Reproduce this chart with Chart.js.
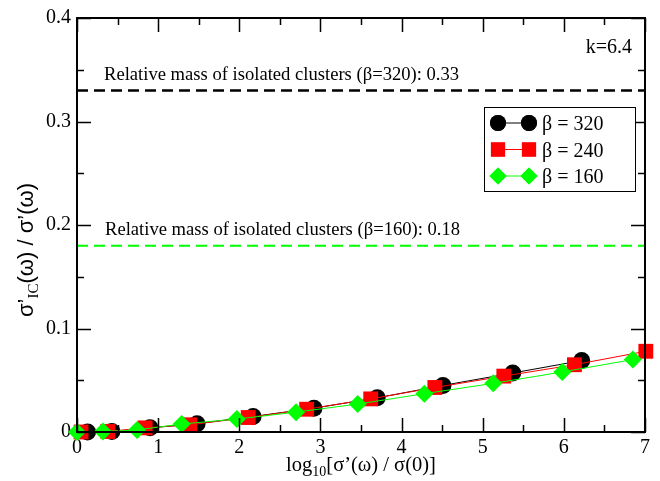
<!DOCTYPE html>
<html>
<head>
<meta charset="utf-8">
<script src="https://cdn.jsdelivr.net/npm/chart.js@4"></script>
<style>
  html, body { margin: 0; padding: 0; background: #fff; }
  #wrap { width: 660px; height: 481px; }
</style>
</head>
<body>
<div id="wrap"><canvas id="c"></canvas></div>
<script>
// values
const x320 = [0.13, 0.43, 0.90, 1.48, 2.17, 2.92, 3.70, 4.51, 5.37, 6.22];
const y320 = [0.000, 0.0005, 0.004, 0.008, 0.015, 0.023, 0.033, 0.045, 0.057, 0.069];
const x240 = [0.05, 0.38, 0.84, 1.39, 2.11, 2.83, 3.62, 4.41, 5.26, 6.13, 7.01];
const y240 = [0.000, 0.0005, 0.004, 0.007, 0.014, 0.022, 0.032, 0.043, 0.054, 0.065, 0.078];
const x160 = [0.00, 0.32, 0.74, 1.29, 1.97, 2.70, 3.46, 4.28, 5.13, 5.98, 6.85];
const y160 = [0.000, 0.0005, 0.002, 0.0077, 0.0125, 0.0192, 0.027, 0.037, 0.047, 0.058, 0.070];

const massLevels = [0.33, 0.18];
const massLabels = ['Relative mass of isolated clusters (\u03b2=320): 0.33',
                    'Relative mass of isolated clusters (\u03b2=160): 0.18'];
const seriesNames = ['\u03b2 = 320', '\u03b2 = 240', '\u03b2 = 160'];
const xTicks = [0, 1, 2, 3, 4, 5, 6, 7];
const yTicks = [0, 0.1, 0.2, 0.3, 0.4];

const SERIF = '"Liberation Serif", "DejaVu Serif", serif';
const SANS = '"Liberation Sans", Arial, sans-serif';

function pts(xs, ys) {
  return xs.map((x, i) => ({x: x, y: ys[i]}));
}

const datasets = [
  {
    label: seriesNames[2], data: pts(x160, y160), showLine: true,
    borderColor: '#00ff00', backgroundColor: '#00ff00', borderWidth: 1,
    pointStyle: 'rectRot', pointRadius: 9, pointBorderWidth: 0, order: 1, clip: 12
  },
  {
    label: seriesNames[1], data: pts(x240, y240), showLine: true,
    borderColor: '#ff0000', backgroundColor: '#ff0000', borderWidth: 1,
    pointStyle: 'rect', pointRadius: 10.5, pointBorderWidth: 0, order: 2, clip: 12
  },
  {
    label: seriesNames[0], data: pts(x320, y320), showLine: true,
    borderColor: '#000000', backgroundColor: '#000000', borderWidth: 1,
    pointStyle: 'circle', pointRadius: 8.5, pointBorderWidth: 0, order: 3, clip: 12
  },
  {
    label: 'm320', data: [{x: 0, y: massLevels[0]}, {x: 7, y: massLevels[0]}], showLine: true,
    borderColor: '#000000', borderWidth: 2.5, borderDash: [11, 6], pointRadius: 0, order: 4
  },
  {
    label: 'm160', data: [{x: 0, y: massLevels[1]}, {x: 7, y: massLevels[1]}], showLine: true,
    borderColor: '#00ff00', borderWidth: 2, borderDash: [11, 6], pointRadius: 0, order: 4
  }
];

// frame, inward ticks on all sides, labels, legend, axis titles
const decor = {
  id: 'decor',
  afterDatasetsDraw(chart) {
    const ctx = chart.ctx;
    const a = chart.chartArea;
    const xs = chart.scales.x, ys = chart.scales.y;
    ctx.save();
    ctx.strokeStyle = '#000';
    ctx.lineWidth = 2;
    ctx.strokeRect(a.left, a.top, a.right - a.left, a.bottom - a.top);

    ctx.lineWidth = 1.5;
    ctx.beginPath();
    for (let v = 0; v <= 7.001; v += 0.5) {
      const px = Math.round(xs.getPixelForValue(v)) + 0.5;
      const len = Math.abs(v - Math.round(v)) < 1e-6 ? 14 : 7;
      ctx.moveTo(px, a.bottom); ctx.lineTo(px, a.bottom - len);
      ctx.moveTo(px, a.top); ctx.lineTo(px, a.top + len);
    }
    for (let v = 0; v <= 0.4001; v += 0.05) {
      const py = Math.round(ys.getPixelForValue(v)) + 0.5;
      const len = Math.abs(v * 10 - Math.round(v * 10)) < 1e-6 ? 14 : 7;
      ctx.moveTo(a.left, py); ctx.lineTo(a.left + len, py);
      ctx.moveTo(a.right, py); ctx.lineTo(a.right - len, py);
    }
    ctx.stroke();

    // mass annotations
    ctx.fillStyle = '#000';
    ctx.font = '18.6px ' + SERIF;
    ctx.textAlign = 'left';
    ctx.textBaseline = 'alphabetic';
    ctx.fillText(massLabels[0], 104, ys.getPixelForValue(massLevels[0]) - 10);
    ctx.fillText(massLabels[1], 105, ys.getPixelForValue(massLevels[1]) - 11);

    ctx.font = '20px ' + SERIF;
    ctx.textAlign = 'right';
    ctx.fillText('k=6.4', 632, 53);

    // legend
    const lx = 484, ly = 107, lw = 151, lh = 84;
    ctx.fillStyle = '#fff';
    ctx.fillRect(lx, ly, lw, lh);
    ctx.lineWidth = 1;
    ctx.strokeStyle = '#000';
    ctx.strokeRect(lx + 0.5, ly + 0.5, lw, lh);
    const rows = [datasets[2], datasets[1], datasets[0]];
    rows.forEach((ds, i) => {
      const y = 123 + i * 26.5;
      ctx.strokeStyle = ds.borderColor;
      ctx.lineWidth = 1;
      ctx.beginPath();
      ctx.moveTo(498, y); ctx.lineTo(529, y);
      ctx.stroke();
      ctx.fillStyle = ds.backgroundColor;
      const r = ds.pointStyle === 'circle' ? 8 : ds.pointStyle === 'rect' ? 10 : 8.5;
      [498, 529].forEach(px => {
        Chart.helpers.drawPoint(ctx, {pointStyle: ds.pointStyle, radius: r, borderWidth: 0, rotation: 0}, px, y);
        ctx.fill();
      });
      ctx.fillStyle = '#000';
      ctx.font = '20px ' + SERIF;
      ctx.textAlign = 'left';
      ctx.fillText(ds.label, 542, y + 7);
    });

    // x title: log10[σ'(ω) / σ(0)]
    const xMain1 = 'log', xSub = '10', xMain2 = '[\u03c3\u2019(\u03c9) / \u03c3(0)]';
    ctx.font = '20.5px ' + SERIF;
    const w1 = ctx.measureText(xMain1).width, w3 = ctx.measureText(xMain2).width;
    ctx.font = '14px ' + SERIF;
    const w2 = ctx.measureText(xSub).width;
    let sx = (a.left + a.right) / 2 - (w1 + w2 + w3) / 2;
    const by = 471;
    ctx.textAlign = 'left';
    ctx.font = '20.5px ' + SERIF;
    ctx.fillText(xMain1, sx, by);
    ctx.font = '14px ' + SERIF;
    ctx.fillText(xSub, sx + w1, by + 5);
    ctx.font = '20.5px ' + SERIF;
    ctx.fillText(xMain2, sx + w1 + w2, by);

    // y title: σ'IC(ω) / σ'(ω)
    const yA = '\u03c3\u2019', yB = 'IC', yC = '(\u03c9) / \u03c3\u2019(\u03c9)';
    ctx.translate(33, 250);
    ctx.rotate(-Math.PI / 2);
    ctx.font = '22px ' + SANS;
    const ua = ctx.measureText(yA).width, uc = ctx.measureText(yC).width;
    ctx.font = '15px ' + SERIF;
    const ub = ctx.measureText(yB).width;
    let tx = -(ua + ub + uc) / 2;
    ctx.font = '22px ' + SANS;
    ctx.fillText(yA, tx, 0);
    ctx.font = '15px ' + SERIF;
    ctx.fillText(yB, tx + ua, 5);
    ctx.font = '22px ' + SANS;
    ctx.fillText(yC, tx + ua + ub, 0);
    ctx.restore();
  }
};

new Chart(document.getElementById('c'), {
  type: 'scatter',
  data: { datasets: datasets },
  options: {
    responsive: true,
    maintainAspectRatio: false,
    animation: false,
    layout: { padding: { top: 16, right: 15, left: 0, bottom: 0 } },
    plugins: { legend: { display: false }, tooltip: { enabled: false } },
    scales: {
      x: {
        type: 'linear', min: 0, max: 7,
        afterBuildTicks: s => { s.ticks = xTicks.map(v => ({value: v})); },
        afterFit: s => { s.height = 49; },
        grid: { display: false, tickLength: 0 }, border: { display: false },
        ticks: { color: '#000', font: { family: SERIF, size: 20 }, padding: 4, maxRotation: 0 }
      },
      y: {
        type: 'linear', min: 0, max: 0.4,
        afterBuildTicks: s => { s.ticks = yTicks.map(v => ({value: v})); },
        afterFit: s => { s.width = 77; },
        grid: { display: false, tickLength: 0 }, border: { display: false },
        ticks: {
          color: '#000', font: { family: SERIF, size: 20 }, padding: 6,
          callback: v => v === 0 ? '0' : v.toFixed(1)
        }
      }
    }
  },
  plugins: [decor]
});
</script>
</body>
</html>
